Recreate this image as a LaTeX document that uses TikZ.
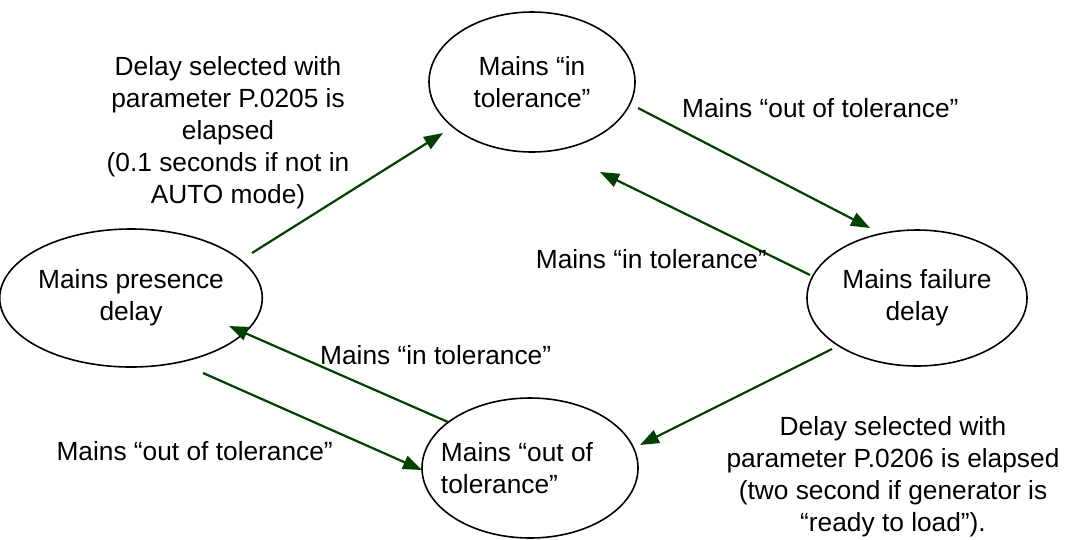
\documentclass[tikz,border=0pt]{standalone}
\usepackage{fontspec}
\setmainfont{Liberation Sans}
\usetikzlibrary{shapes.geometric,arrows.meta}
\definecolor{arrowgreen}{RGB}{0,64,0}
\begin{document}
\begin{tikzpicture}[x=1pt,y=1pt,
  every node/.style={font=\fontsize{26.3}{31.8}\selectfont},
  state/.style={ellipse,draw=black,line width=1.6pt,inner sep=0pt,align=center},
  trans/.style={draw=arrowgreen,line width=2.2pt,-{Triangle[length=19pt,width=14pt]}},
  lbl/.style={inner sep=0pt,align=center}]
\path[use as bounding box] (0,0) rectangle (1078,-539);

% states
\node[state,minimum width=206pt,minimum height=140pt] (intol)   at (532,-82)  {Mains “in\\tolerance”};
\node[state,minimum width=242pt,minimum height=138pt] (presence) at (131,-298) {Mains presence\\delay};
\node[state,minimum width=220pt,minimum height=136pt] (failure)  at (917,-298) {Mains failure\\delay};
\node[state,minimum width=216pt,minimum height=140pt,align=left] (outtol) at (530,-468)
  {\hspace*{-26pt}Mains “out of\\\hspace*{-26pt}tolerance”};

% connector end points
\coordinate (p1a) at (252,-253); \coordinate (p1b) at (443,-133);
\coordinate (p2a) at (638,-108); \coordinate (p2b) at (870,-228);
\coordinate (p3a) at (810,-275); \coordinate (p3b) at (600,-172);
\coordinate (p4a) at (832,-349); \coordinate (p4b) at (640,-445);
\coordinate (p5a) at (448,-422); \coordinate (p5b) at (229,-326);
\coordinate (p6a) at (203,-373); \coordinate (p6b) at (422,-470);

% transitions
\draw[trans] (p1a) -- (p1b);
\draw[trans] (p2a) -- (p2b);
\draw[trans] (p3a) -- (p3b);
\draw[trans] (p4a) -- (p4b);
\draw[trans] (p5a) -- (p5b);
\draw[trans] (p6a) -- (p6b);

% transition labels (multi-line blocks are placed by the baseline of their last line)
\node[lbl,anchor=base] (l1) at (228,-203) {Delay selected with\\parameter P.0205 is\\elapsed\\(0.1 seconds if not in\\AUTO mode)};
\node[lbl,anchor=base west] (l2) at (682,-117) {Mains “out of tolerance”};
\node[lbl,anchor=base east] (l3) at (767,-268) {Mains “in tolerance”};
\node[lbl,anchor=base west] (l4) at (320,-364) {Mains “in tolerance”};
\node[lbl,anchor=base east] (l5) at (333,-460) {Mains “out of tolerance”};
\node[lbl,anchor=base] (l6) at (893,-531) {Delay selected with\\parameter P.0206 is elapsed\\(two second if generator is\\“ready to load”).};
\end{tikzpicture}
\end{document}
